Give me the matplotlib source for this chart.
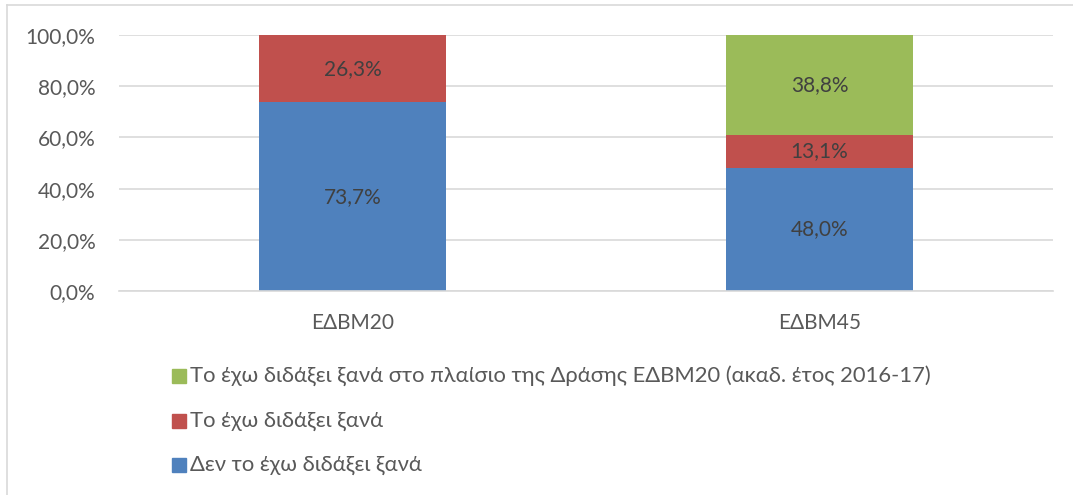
import matplotlib
matplotlib.use("Agg")
import matplotlib.pyplot as plt
from matplotlib.patches import Rectangle
from matplotlib.lines import Line2D
import numpy as np

categories = ["ΕΔΒΜ20", "ΕΔΒΜ45"]
series_names = [
    "Δεν το έχω διδάξει ξανά",
    "Το έχω διδάξει ξανά",
    "Το έχω διδάξει ξανά στο πλαίσιο της Δράσης ΕΔΒΜ20 (ακαδ. έτος 2016-17)",
]
never = [73.7, 48.0]
again = [26.3, 13.1]
again_edbm20 = [0.0, 38.8]
colors = ["#4F81BD", "#C0504D", "#9BBB59"]
yticks = [0, 20, 40, 60, 80, 100]

plt.rcParams['font.family'] = ['Lato', 'DejaVu Sans']
FS = 15
W, H = 1073, 495
fig = plt.figure(figsize=(W / 100, H / 100), dpi=100)
ax = fig.add_axes([119 / W, 1 - 291 / H, (1053 - 119) / W, (291 - 35) / H])

x = np.arange(len(categories))
bottom = np.zeros(len(categories))
for vals, col in zip([never, again, again_edbm20], colors):
    vals = np.array(vals)
    ax.bar(x, vals, 0.4, bottom=bottom, color=col, zorder=2)
    for xi, v, b in zip(x, vals, bottom):
        if v > 0:
            ax.text(xi, b + v / 2, f"{v:.1f}%".replace(".", ","), ha="center", va="center",
                    fontsize=FS, color="#404040", zorder=3)
    bottom += vals

ax.set_xlim(-0.5, 1.5)
ax.set_ylim(0, 100)
ax.set_yticks(yticks)
ax.set_yticklabels([f"{t:.1f}%".replace(".", ",") for t in yticks], fontsize=FS, color="#595959")
ax.set_xticks(x)
ax.set_xticklabels(categories, fontsize=FS, color="#595959")
ax.tick_params(axis="y", length=0, pad=17)
ax.tick_params(axis="x", length=0, pad=16)
for s in ["top", "right", "left"]:
    ax.spines[s].set_visible(False)
ax.spines["bottom"].set_color("#D9D9D9")
ax.spines["bottom"].set_linewidth(1.2)
ax.grid(axis="y", color="#D9D9D9", linewidth=1.2, zorder=0)
ax.set_axisbelow(True)

# legend (manual, reversed order)
rows_y = [376, 421, 465]
for name, col, yy in zip(series_names[::-1], colors[::-1], rows_y):
    fig.patches.append(Rectangle((172 / W, 1 - (yy + 7) / H), 14 / W, 14 / H,
                                 transform=fig.transFigure, color=col))
    fig.text(190 / W, 1 - yy / H, name, fontsize=15.8, color="#595959", va="center", ha="left")

# figure border (left and top)
fig.lines.append(Line2D([7 / W, 7 / W], [0, 1 - 5 / H], transform=fig.transFigure, color="#D9D9D9", lw=1.2))
fig.lines.append(Line2D([7 / W, 1], [1 - 5 / H, 1 - 5 / H], transform=fig.transFigure, color="#D9D9D9", lw=1.2))

fig.savefig("out.png", dpi=100)
